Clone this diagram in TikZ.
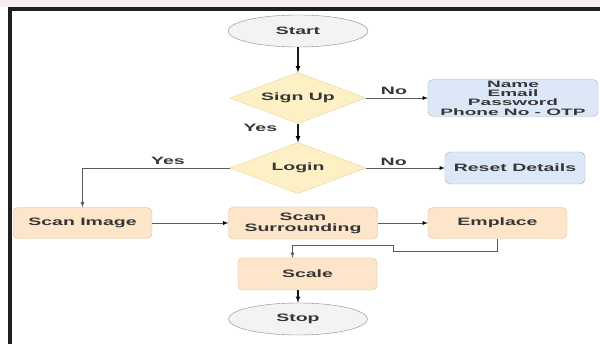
\documentclass[tikz,border=0pt]{standalone}
\usepackage{fontspec}
\newfontfamily\flowfont{Liberation Sans}[FakeStretch=1.82]
\newfontfamily\infofont{Liberation Sans}[FakeStretch=2.05]
\usetikzlibrary{arrows,shapes.geometric,positioning}

\definecolor{textgrey}{HTML}{363636}
\definecolor{linegrey}{HTML}{5A5A5A}
\definecolor{termfill}{HTML}{F3F3F3}
\definecolor{termline}{HTML}{8A8A8A}
\definecolor{decfill}{HTML}{FDF0C4}
\definecolor{decline}{HTML}{E6D49A}
\definecolor{procfill}{HTML}{FCE5C8}
\definecolor{procline}{HTML}{D9BE98}
\definecolor{datafill}{HTML}{DCE8F8}
\definecolor{dataline}{HTML}{9DB2CE}
\definecolor{topstrip}{HTML}{F4EFEC}

\begin{document}
\begin{tikzpicture}[x=1pt,y=-1pt,on grid,auto,>=latex,
    font=\flowfont\bfseries\fontsize{10.7}{11}\selectfont,text=textgrey]
  \tikzstyle{terminal}=[ellipse,draw=termline,fill=termfill,minimum width=140pt,minimum height=32pt,inner sep=0pt]
  \tikzstyle{decision}=[diamond,aspect=2.67,draw=decline,fill=decfill,minimum width=136pt,minimum height=51pt,inner sep=0pt]
  \tikzstyle{process}=[rectangle,rounded corners=5pt,draw=procline,fill=procfill,minimum width=139pt,minimum height=31pt,inner sep=0pt,align=center]
  \tikzstyle{datum}=[process,draw=dataline,fill=datafill]
  \tikzstyle{flow}=[->,line width=1.1pt,draw=black!90]
  \tikzstyle{branch}=[->,line width=0.8pt,draw=linegrey]

  % page and frame
  \fill[white] (0,0) rectangle (600,344);
  \fill[topstrip] (0,0) rectangle (600,7);
  \useasboundingbox (0,0) rectangle (600,344);
  \draw[line width=3.5pt,black!88] (10,344) -- (10,9) -- (600,9);

  \node[terminal] (start) at (298,31) {Start};
  \node[decision] (signup) [below=67pt of start] {Sign Up};
  \node[datum,minimum width=170pt,minimum height=37pt,
        font=\infofont\bfseries\fontsize{9.3}{9.3}\selectfont] (details) [right=215pt of signup]
        {Name\\Email\\Password\\Phone No - OTP};
  \node[decision] (login) [below=70pt of signup] {Login};
  \node[datum,minimum width=140pt,minimum height=32pt] (reset) [right=217pt of login] {Reset Details};
  \node[process,minimum width=149pt,minimum height=32pt] (surround) [below right=55pt and 5pt of login] {Scan\\Surrounding};
  \node[process] (scanimg) [left=220.5pt of surround] {Scan Image};
  \node[process] (emplace) [right=194.5pt of surround] {Emplace};
  \node[process,minimum height=32pt] (scale) [below right=51pt and 4.5pt of surround] {Scale};
  \node[terminal,minimum width=139pt] (stop) [below left=45pt and 9.5pt of scale] {Stop};

  \path[flow]
  (start)  edge                                 (signup)
  (signup) edge node[pos=0.2,left=17pt] {Yes}   (login);

  \path[branch]
  (signup)   edge node[pos=0.45] {No}               (details)
  (login)    edge node[pos=0.35,inner sep=2pt] {No} (reset)
  (scanimg)  edge                                   (surround)
  (surround) edge                                   (emplace);

  \draw[branch] (login) -| node[pos=0.21,above] {Yes} (scanimg);
  \draw[branch] (emplace.south) -- ++(0,13) -| ++(-104,-6) -| ([xshift=-15pt]scale.north);
  \draw[flow] (scale.south -| stop.north) -- (stop.north);
\end{tikzpicture}
\end{document}
